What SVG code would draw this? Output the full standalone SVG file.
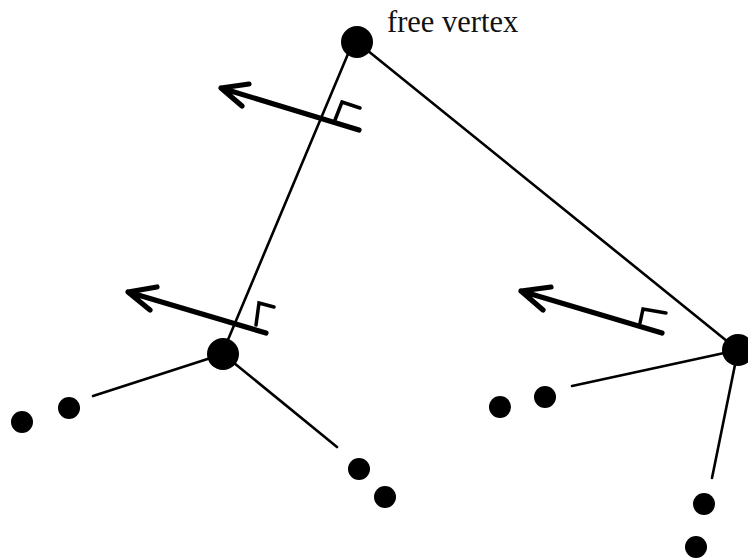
<svg xmlns="http://www.w3.org/2000/svg" width="748" height="560" viewBox="0 0 748 560">
<style>
.edge{stroke:#000;stroke-width:2.6;fill:none;stroke-linecap:round}
.arrow{stroke:#000;stroke-width:5.2;fill:none;stroke-linecap:round;stroke-linejoin:round}
.tick{stroke:#000;stroke-width:3.5;fill:none;stroke-linecap:round;stroke-linejoin:miter}
.v{fill:#000}
.label{font-family:"Liberation Serif","Times New Roman",serif;font-size:30.5px;fill:#111}
</style>
<rect width="748" height="560" fill="#fff"/>
<g id="connectors">
<line class="edge" x1="353" y1="42" x2="222" y2="354"/>
<line class="edge" x1="357" y1="42" x2="738" y2="350"/>
<line class="edge" x1="223" y1="354" x2="93" y2="396"/>
<line class="edge" x1="223" y1="354" x2="337" y2="447"/>
<line class="edge" x1="738" y1="350" x2="572" y2="386"/>
<line class="edge" x1="738" y1="350" x2="712" y2="478"/>
</g>
<g id="arrow-top">
<path class="arrow" d="M359,130 L221,88 M249,84 L221,88 L242,106"/>
<path class="tick" d="M335,120 L342,102 L360,108"/>
</g>
<g id="arrow-left">
<path class="arrow" d="M266,333 L128,292 M157,287 L128,292 L150,310"/>
<path class="tick" d="M256,325 L259,303 L274,307"/>
</g>
<g id="arrow-right">
<path class="arrow" d="M662,333 L521,291 M551,287 L521,291 L543,310"/>
<path class="tick" d="M640,323 L643,309 L666,313"/>
</g>
<g id="free-vertex">
<circle class="v" cx="357" cy="42" r="16"/>
<text class="label" x="387" y="32">free vertex</text>
</g>
<g id="left-node"><circle class="v" cx="223" cy="354" r="16"/></g>
<g id="right-node"><circle class="v" cx="738" cy="350" r="16"/></g>
<g id="dots">
<circle class="v" cx="22" cy="422" r="11"/>
<circle class="v" cx="69" cy="408" r="11"/>
<circle class="v" cx="359" cy="469" r="11"/>
<circle class="v" cx="385" cy="497" r="11"/>
<circle class="v" cx="500" cy="407" r="11"/>
<circle class="v" cx="545" cy="397" r="11"/>
<circle class="v" cx="704" cy="504" r="11"/>
<circle class="v" cx="696" cy="547" r="11"/>
</g>
</svg>
